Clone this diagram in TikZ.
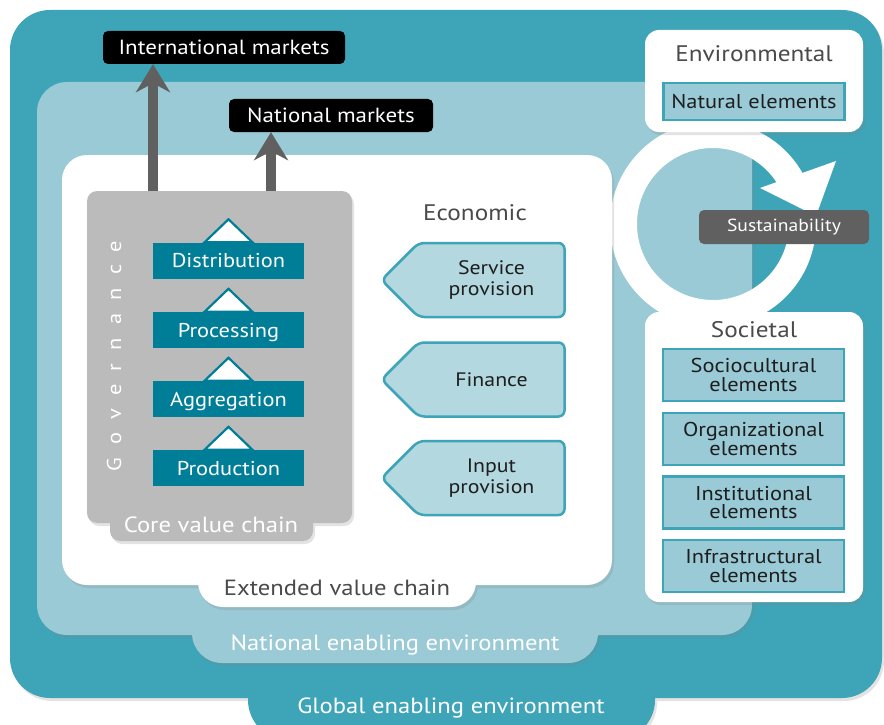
\documentclass[tikz,border=0pt]{standalone}
\usepackage{fontspec}
\setmainfont[FakeStretch=1.12]{PT Sans}
\usetikzlibrary{arrows.meta,shapes.symbols,shadows,calc}

\definecolor{globalc}{HTML}{3EA5B8}
\definecolor{nationalc}{HTML}{99CAD5}
\definecolor{stagec}{HTML}{007E98}
\definecolor{ecoc}{HTML}{B3D8DF}
\definecolor{corec}{HTML}{BBBBBB}
\definecolor{arrowc}{HTML}{606060}
\definecolor{titlec}{HTML}{4A4A4A}
\definecolor{inkc}{HTML}{1E1E1E}

\newcommand\pxfont[2]{\fontsize{#1}{#2}\selectfont}

\tikzset{every picture/.style = {x=1pt, y=-1pt}}
\tikzset{panel/.style = {rounded corners=#1,
  drop shadow={opacity=0.22, shadow xshift=2pt, shadow yshift=-3pt}}}
\tikzset{tablabel/.style = {font=\pxfont{22}{22}, text=white, inner sep=0}}
\tikzset{heading/.style = {font=\pxfont{22.5}{22.5}, text=titlec, inner sep=0}}
\tikzset{market/.style = {fill=black, text=white, rounded corners=5,
  minimum height=33, inner sep=0, font=\pxfont{20.5}{20.5}}}
\tikzset{mkt/.style = {draw=arrowc, line width=10,
  -{Stealth[length=28pt, width=34pt, inset=9pt]}}}
\tikzset{stagebox/.style = {fill=stagec, text=white, minimum width=151,
  minimum height=36, inner sep=0, text height=14.5, text depth=0,
  font=\pxfont{20}{20}}}
\tikzset{stagetip/.style = {fill=white, draw=stagec, line width=2.2}}
\tikzset{ecobox/.style = {signal, signal to=west, signal pointer angle=90,
  fill=ecoc, draw=globalc, line width=2.5, rounded corners=6,
  minimum width=183, minimum height=74, inner sep=0, text=inkc,
  align=center, font=\pxfont{19.5}{21.5}}}
\tikzset{elem/.style = {fill=nationalc, draw=globalc, line width=2.5,
  minimum width=181, minimum height=52, inner sep=0, text=inkc,
  align=center, font=\pxfont{20}{18.5}}}

\begin{document}
\begin{tikzpicture}
  \clip (0,0) rectangle (884,725);
  \fill[white] (0,0) rectangle (884,725);

  % enabling environments
  \fill[globalc, panel=40] (10,10) rectangle (882,698)
    (248,650) rectangle (655,740);
  \fill[nationalc, panel=30] (37,82) rectangle (752,635)
    (192,600) rectangle (598,663);

  % sustainability ring
  \draw[white, line width=27] (713,224) ++(5:89.5)
    arc[start angle=5, end angle=332, radius=89.5];
  \fill[white] (760,188) -- (836,161) -- (816,216) -- cycle;

  \fill[white, panel=25] (62,155) rectangle (612,585)
    (198,560) rectangle (476,607);

  % markets
  \node[market, minimum width=242] (intl) at (224,47.5) {International markets};
  \node[market, minimum width=204] (natl) at (331,115.5) {National markets};
  \coordinate (intlfoot) at (153,200);
  \coordinate (natlfoot) at (271,200);
  \draw[mkt] (intlfoot) -- (intlfoot |- intl.south);
  \draw[mkt] (natlfoot) -- (natlfoot |- natl.south);

  % core value chain
  \fill[corec, panel=10] (87,191) rectangle (352,523)
    (110,500) rectangle (313,541);
  \node[font=\pxfont{20}{20}\addfontfeature{LetterSpace=66}, text=white,
    rotate=90, inner sep=0] (gov) at (114,356) {Governance};

  \node[stagebox] (dist) at (228.5,260.5) {Distribution};
  \node[stagebox] (proc) at (228.5,330) {Processing};
  \node[stagebox] (aggr) at (228.5,399) {Aggregation};
  \node[stagebox] (prod) at (228.5,468) {Production};
  \foreach \s in {dist,proc,aggr,prod}
    \filldraw[stagetip] ($(\s.north)+(-24,0)$) -- ($(\s.north)+(0,-23)$)
      -- ($(\s.north)+(24,0)$) -- cycle;

  % economic
  \node[heading] (eco) at (475,213) {Economic};
  \node[ecobox] (serv) at (491.5,280) {Service\\provision};
  \node[ecobox] (fin) at (491.5,379.5) {Finance};
  \node[ecobox] (inp) at (491.5,478) {Input\\provision};

  % environmental
  \fill[white, panel=14] (645,30) rectangle (863,132);
  \node[heading] (envt) at (754,54) {Environmental};
  \node[elem, minimum height=37, font=\pxfont{20}{20}] (nat) at (754,101.5)
    {Natural elements};

  % societal
  \fill[white, panel=14] (645,312) rectangle (863,602);
  \node[heading] (soct) at (754,330) {Societal};
  \node[elem] (soc) at (753.5,375) {Sociocultural\\elements};
  \node[elem] (org) at (753.5,439) {Organizational\\elements};
  \node[elem] (inst) at (753.5,502.5) {Institutional\\elements};
  \node[elem] (infra) at (753.5,566) {Infrastructural\\elements};

  \node[fill=arrowc, text=white, rounded corners=5, minimum width=170,
    minimum height=34, inner sep=0, font=\pxfont{17.5}{17.5}] (sust)
    at (784,227) {Sustainability};

  % labels on the tabs
  \node[tablabel] (glob) at (451,708) {Global enabling environment};
  \node[tablabel] (natenv) at (395,645) {National enabling environment};
  \node[tablabel, text=titlec] (ext) at (337,588) {Extended value chain};
  \node[tablabel] (core) at (211,525) {Core value chain};
\end{tikzpicture}
\end{document}
